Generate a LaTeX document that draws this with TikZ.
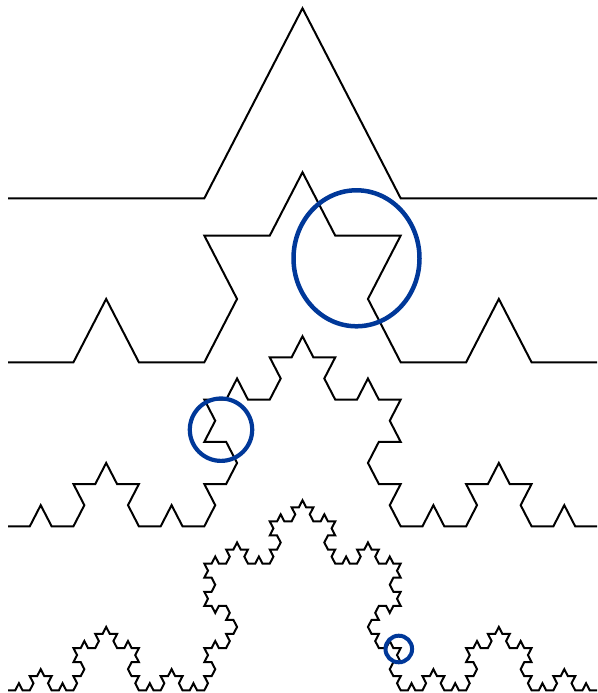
\documentclass[tikz,border=0pt]{standalone}
\definecolor{ringblue}{RGB}{0,56,153}
\newcommand\kochseg[5]{%
  \ifnum#1=0
    \xdef\kochpath{\kochpath -- (#4,#5)}%
  \else
    \pgfmathsetmacro\kdx{((#4)-(#2))/3}%
    \pgfmathsetmacro\kdy{((#5)-(#3))/3}%
    \pgfmathsetmacro\kax{(#2)+(\kdx)}%
    \pgfmathsetmacro\kay{(#3)+(\kdy)}%
    \pgfmathsetmacro\kbx{(#2)+2*(\kdx)}%
    \pgfmathsetmacro\kby{(#3)+2*(\kdy)}%
    \pgfmathsetmacro\kpx{((#2)+(#4))/2-0.8660254*(\kdy)}%
    \pgfmathsetmacro\kpy{((#3)+(#5))/2+0.8660254*(\kdx)}%
    \pgfmathtruncatemacro\kn{#1-1}%
    \edef\knext{\noexpand\kochseg{\kn}{#2}{#3}{\kax}{\kay}%
      \noexpand\kochseg{\kn}{\kax}{\kay}{\kpx}{\kpy}%
      \noexpand\kochseg{\kn}{\kpx}{\kpy}{\kbx}{\kby}%
      \noexpand\kochseg{\kn}{\kbx}{\kby}{#4}{#5}}%
    \knext
  \fi}
\newcommand\kochlevel[2]{% level, baseline Y
  \gdef\kochpath{}%
  \kochseg{#1}{0}{0}{589}{0}%
  \begin{scope}[shift={(8,#2)},yscale=1.1176]
    \draw[kochline] (0,0) \kochpath;
  \end{scope}}
\tikzset{
  kochline/.style={black,line width=2pt,line join=miter},
  ring/.style={draw=ringblue}
}
\begin{document}
\begin{tikzpicture}[x=1pt,y=1pt]
  \useasboundingbox (0,0) rectangle (597,693);
  \kochlevel{1}{494.7}
  \kochlevel{2}{330.7}
  \kochlevel{3}{166.7}
  \kochlevel{4}{2.7}
  \draw[ring,line width=4.5pt] (356.5,434.7) ellipse [x radius=63, y radius=68];
  \draw[ring,line width=4.2pt] (221,263.3) ellipse [x radius=31.2, y radius=31.2];
  \draw[ring,line width=4pt] (398.8,44) ellipse [x radius=13.3, y radius=13.3];
\end{tikzpicture}
\end{document}
